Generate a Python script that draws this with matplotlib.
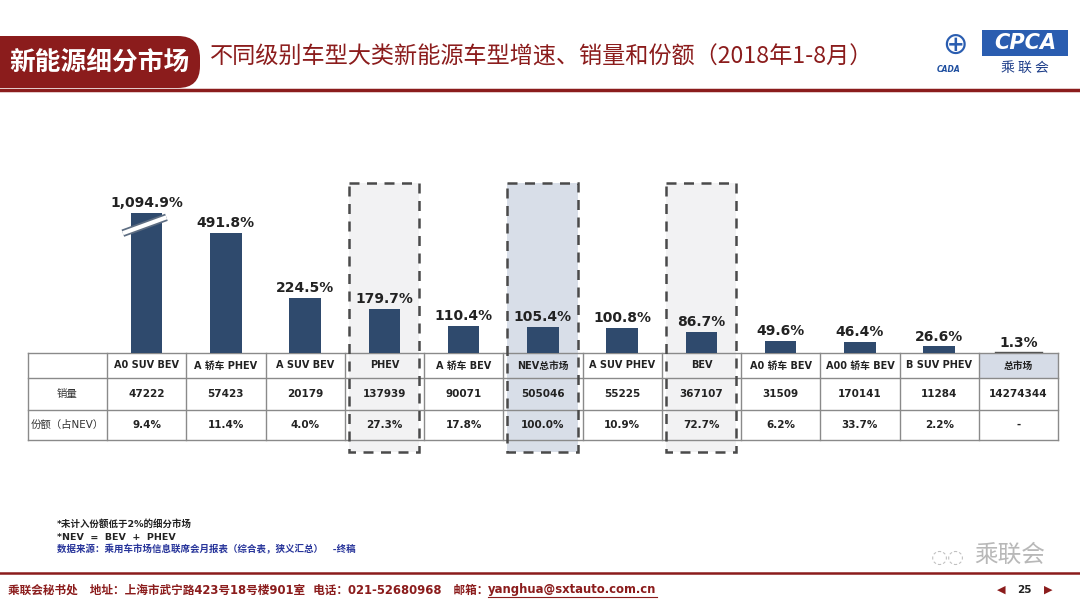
import matplotlib.pyplot as plt
from matplotlib.patches import Rectangle, FancyBboxPatch

plt.rcParams['font.family'] = ['DejaVu Sans', 'Noto Sans CJK SC']

# ---- data -------------------------------------------------------------
segments = ['A0 SUV BEV', 'A 轿车 PHEV', 'A SUV BEV', 'PHEV', 'A 轿车 BEV',
            'NEV总市场', 'A SUV PHEV', 'BEV', 'A0 轿车 BEV', 'A00 轿车 BEV',
            'B SUV PHEV', '总市场']
growth = [1094.9, 491.8, 224.5, 179.7, 110.4, 105.4, 100.8, 86.7,
          49.6, 46.4, 26.6, 1.3]
sales = [47222, 57423, 20179, 137939, 90071, 505046, 55225, 367107,
         31509, 170141, 11284, 14274344]
share = ['9.4%', '11.4%', '4.0%', '27.3%', '17.8%', '100.0%', '10.9%',
         '72.7%', '6.2%', '33.7%', '2.2%', '-']
row_labels = ['销量', '份额（占NEV）']
highlight = {3: '#f2f2f3', 5: '#d8dee8', 7: '#f2f2f3'}

BREAK_AT = 573     # display cap for the broken bar
NAVY = '#2f4a6d'
DARK_RED = '#8b1c1c'

W, H = 1080, 607
fig = plt.figure(figsize=(W / 100, H / 100), dpi=100)

# background / layout axes in pixel coordinates
bg = fig.add_axes([0, 0, 1, 1])
bg.set_xlim(0, W)
bg.set_ylim(H, 0)
bg.axis('off')

# table geometry
x0, col0 = 28, 107
col_w = (1058 - col0) / len(segments)
rows_y = [353, 378, 410, 440]
col_x = [x0] + [col0 + i * col_w for i in range(len(segments) + 1)]

# highlighted column boxes (fills)
for i, c in highlight.items():
    l = col0 + i * col_w + 4
    bg.add_patch(Rectangle((l, 183), col_w - 9, 452 - 183, facecolor=c,
                           edgecolor='none', zorder=0))
# 总市场 header cell
bg.add_patch(Rectangle((col_x[-2], rows_y[0]), col_w, rows_y[1] - rows_y[0],
                       facecolor='#d6dce7', edgecolor='none', zorder=0))

# table grid
for y in rows_y:
    bg.plot([x0, col_x[-1]], [y, y], color='#8a8a8a', lw=1, zorder=2)
for x in col_x:
    bg.plot([x, x], [rows_y[0], rows_y[-1]], color='#8a8a8a', lw=1, zorder=2)

# table text
for i, seg in enumerate(segments):
    cx = col0 + (i + 0.5) * col_w
    bg.text(cx, (rows_y[0] + rows_y[1]) / 2, seg, ha='center', va='center',
            fontsize=7, fontweight='bold', color='#222222', zorder=3)
    bg.text(cx, (rows_y[1] + rows_y[2]) / 2, str(sales[i]), ha='center',
            va='center', fontsize=7.5, fontweight='bold', color='#222222', zorder=3)
    bg.text(cx, (rows_y[2] + rows_y[3]) / 2, share[i], ha='center',
            va='center', fontsize=7.5, fontweight='bold', color='#222222', zorder=3)
bg.text((x0 + col0) / 2, (rows_y[1] + rows_y[2]) / 2, row_labels[0],
        ha='center', va='center', fontsize=7.5, color='#333333')
bg.text((x0 + col0) / 2, (rows_y[2] + rows_y[3]) / 2, row_labels[1],
        ha='center', va='center', fontsize=7.5, color='#333333')

# dashed outlines
for i in highlight:
    l = col0 + i * col_w + 4
    bg.add_patch(Rectangle((l, 183), col_w - 9, 452 - 183, facecolor='none',
                           edgecolor='#4a4a4a', lw=1.8, ls=(0, (4, 3)), zorder=4))

# ---- bars -------------------------------------------------------------
top_px = 180
ax = fig.add_axes([col0 / W, (H - rows_y[0]) / H, (col_x[-1] - col0) / W,
                   (rows_y[0] - top_px) / H])
ax.patch.set_alpha(0)
ax.axis('off')
ax.set_xlim(-0.5, len(segments) - 0.5)
ax.set_ylim(0, (rows_y[0] - top_px) / 0.2445)

shown = [min(v, BREAK_AT) for v in growth]
ax.bar(range(len(segments)), shown, width=0.4, color=NAVY, zorder=2)
for i, (v, s) in enumerate(zip(growth, shown)):
    ax.text(i, s + 12, f'{v:,.1f}%', ha='center', va='bottom', fontsize=10,
            fontweight='bold', color='#222222')
# underline for the tiny last bar
ax.plot([len(segments) - 1.3, len(segments) - 0.7], [3, 3], color='#555555',
        lw=1, zorder=3)

# axis-break mark on the capped bar
ax.plot([-0.3, 0.25], [490, 555], color='#5d6d82', lw=5.5, solid_capstyle='butt', zorder=3)
ax.plot([-0.3, 0.25], [490, 555], color='white', lw=3, solid_capstyle='butt', zorder=4)

# ---- header -----------------------------------------------------------
bg.add_patch(FancyBboxPatch((-30, 36), 230, 52, boxstyle='round,pad=0,rounding_size=22',
                            facecolor=DARK_RED, edgecolor='none', zorder=1))
bg.text(99, 62, '新能源细分市场', color='white', fontsize=18.5, fontweight='bold',
        ha='center', va='center', family=['Noto Sans CJK SC'])
bg.text(210, 57, '不同级别车型大类新能源车型增速、销量和份额（2018年1-8月）',
        color=DARK_RED, fontsize=16.7, ha='left', va='center',
        family=['Noto Sans CJK SC'])
bg.plot([0, W], [89.5, 89.5], color=DARK_RED, lw=2.5)

# logo
bg.add_patch(Rectangle((982, 30), 86, 26, facecolor='#2a5db0', edgecolor='none'))
bg.text(1025, 43, 'CPCA', color='white', fontsize=15, fontstyle='italic',
        fontweight='bold', ha='center', va='center')
bg.text(1025, 68, '乘 联 会', color='#1f3f8a', fontsize=10, ha='center', va='center',
        family=['Noto Sans CJK SC'])
bg.text(955, 45, '⊕', color='#2a5db0', fontsize=22, ha='center', va='center')
bg.text(949, 69, 'CADA', color='#1f4fa0', fontsize=5.5, fontstyle='italic',
        fontweight='bold', ha='center', va='center')

# ---- notes ------------------------------------------------------------
bg.text(57, 524, '*未计入份额低于2%的细分市场', fontsize=6.8, color='#222222',
        va='center', fontweight='bold')
bg.text(57, 537, '*NEV  =  BEV  +  PHEV', fontsize=6.8, color='#222222',
        va='center', fontweight='bold')
bg.text(57, 549, '数据来源：乘用车市场信息联席会月报表（综合表，狭义汇总）   -终稿',
        fontsize=6.8, color='#27349a', va='center', fontweight='bold')

# watermark
bg.text(1010, 555, '乘联会', fontsize=17, color='#b8b8b8', ha='center', va='center',
        family=['Noto Sans CJK SC'])
bg.text(948, 557, '◌◌', fontsize=14, color='#c0c0c0', ha='center', va='center')

# ---- footer -----------------------------------------------------------
bg.plot([0, W], [573, 573], color=DARK_RED, lw=1.8)
lead = bg.text(8, 590, '乘联会秘书处   地址：上海市武宁路423号18号楼901室  电话：021-52680968   邮箱：',
               fontsize=8.4, color=DARK_RED, fontweight='bold', va='center')
fig.canvas.draw()
ex = lead.get_window_extent().x1
email = bg.text(ex, 590, 'yanghua@sxtauto.com.cn', fontsize=8.4, color=DARK_RED,
                fontweight='bold', va='center')
fig.canvas.draw()
eext = email.get_window_extent()
bg.plot([eext.x0, eext.x1], [597, 597], color=DARK_RED, lw=0.8)
bg.text(1001, 590, '◀', fontsize=8, color=DARK_RED, ha='center', va='center')
bg.text(1024, 590, '25', fontsize=7.5, color='#222222', fontweight='bold',
        ha='center', va='center')
bg.text(1048, 590, '▶', fontsize=8, color=DARK_RED, ha='center', va='center')

fig.savefig('out.png', dpi=100)
